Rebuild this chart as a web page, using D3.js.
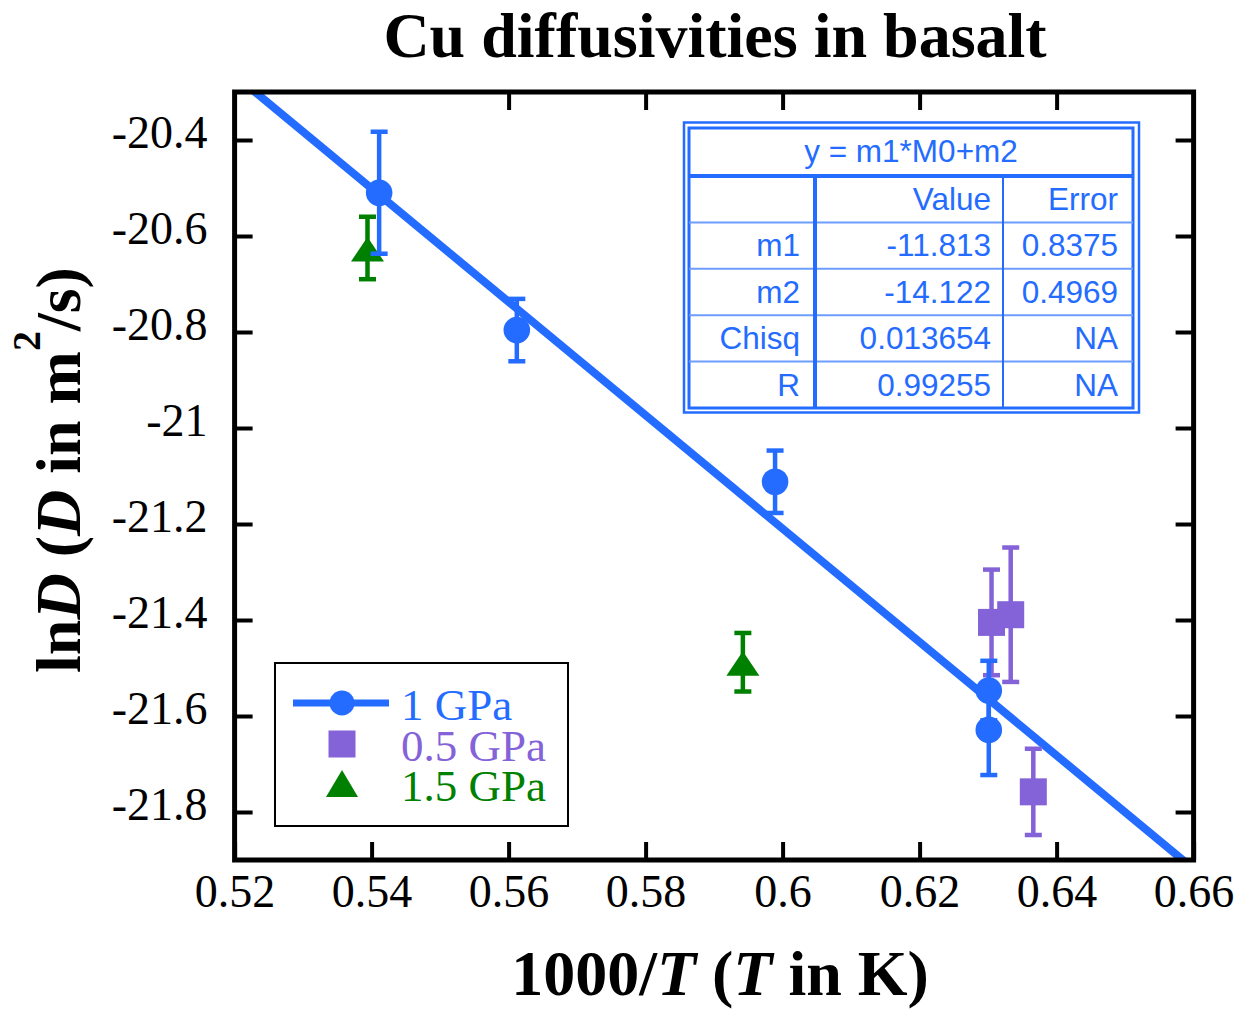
<!DOCTYPE html>
<html>
<head>
<meta charset="utf-8">
<script src="https://cdn.jsdelivr.net/npm/d3@7"></script>
<style>
  html, body { margin: 0; padding: 0; background: #fff; }
  svg { display: block; }
</style>
</head>
<body>
<svg id="chart" width="1244" height="1010"></svg>
<script>
// ---- data ----
const xTickValues = [0.52, 0.54, 0.56, 0.58, 0.60, 0.62, 0.64, 0.66];
const xTopTickValues = [0.56, 0.58, 0.60, 0.62, 0.64];
const yTickValues = [-20.4, -20.6, -20.8, -21.0, -21.2, -21.4, -21.6, -21.8];

// 1 GPa runs
const gpa1X   = [0.5411, 0.5612, 0.5989, 0.6301, 0.6301];
const gpa1Y   = [-20.510, -20.796, -21.112, -21.547, -21.629];
const gpa1Err = [0.127, 0.065, 0.065, 0.062, 0.094];

// 0.5 GPa runs
const gpa05X   = [0.6305, 0.6333, 0.6366];
const gpa05Y   = [-21.405, -21.389, -21.758];
const gpa05Err = [0.110, 0.140, 0.090];

// 1.5 GPa runs
const gpa15X   = [0.5394, 0.5942];
const gpa15Y   = [-20.625, -21.488];
const gpa15Err = [0.065, 0.061];

// linear fit of the 1 GPa runs: y = m1*x + m2
const fitM1 = -11.813;
const fitM2 = -14.122;

const fitTitle = "y = m1*M0+m2";
const fitHeader = ["", "Value", "Error"];
const fitRows = [
  ["m1", "-11.813", "0.8375"],
  ["m2", "-14.122", "0.4969"],
  ["Chisq", "0.013654", "NA"],
  ["R", "0.99255", "NA"]
];

const legendLabels = ["1 GPa", "0.5 GPa", "1.5 GPa"];

// ---- styling ----
const BLUE = "#246cff";
const PURPLE = "#8462d8";
const GREEN = "#008000";
const SERIF = "'Liberation Serif', 'Times New Roman', serif";
const SANS = "'Liberation Sans', Arial, sans-serif";

const svg = d3.select("#chart");

const pL = 234.6, pR = 1193.6, pT = 92, pB = 860;
const x = d3.scaleLinear().domain([0.52, 0.66]).range([pL, pR]);
const y = d3.scaleLinear().domain([-20.3, -21.9]).range([pT, pB]);

const fmtX = d => String(+d.toFixed(2));
const fmtY = d => String(+d.toFixed(1));

// ---- title ----
svg.append("text")
  .attr("x", 715).attr("y", 57)
  .attr("text-anchor", "middle")
  .style("font-family", SERIF).style("font-weight", "bold").style("font-size", "64px")
  .text("Cu diffusivities in basalt");

// ---- axes ----
const TICK = 18;
const axes = svg.append("g");

const gBottom = axes.append("g").attr("transform", `translate(0,${pB})`)
  .call(d3.axisBottom(x).tickValues(xTickValues).tickFormat(fmtX)
    .tickSizeInner(-TICK).tickSizeOuter(0).tickPadding(14));
const gTop = axes.append("g").attr("transform", `translate(0,${pT})`)
  .call(d3.axisTop(x).tickValues(xTopTickValues).tickFormat("")
    .tickSizeInner(-TICK).tickSizeOuter(0));
const gLeft = axes.append("g").attr("transform", `translate(${pL},0)`)
  .call(d3.axisLeft(y).tickValues(yTickValues).tickFormat(fmtY)
    .tickSizeInner(-TICK).tickSizeOuter(0).tickPadding(27));
const gRight = axes.append("g").attr("transform", `translate(${pR},0)`)
  .call(d3.axisRight(y).tickValues(yTickValues).tickFormat("")
    .tickSizeInner(-TICK).tickSizeOuter(0));

axes.selectAll(".domain").remove();
axes.selectAll(".tick line").attr("stroke", "#000").attr("stroke-width", 4);
axes.selectAll(".tick text")
  .attr("fill", "#000")
  .style("font-family", SERIF).style("font-size", "46px");
gLeft.selectAll(".tick text").attr("dy", "0.17em");

// ---- axis labels ----
const xLab = svg.append("text")
  .attr("x", 720).attr("y", 995).attr("text-anchor", "middle")
  .style("font-family", SERIF).style("font-weight", "bold").style("font-size", "64px");
xLab.append("tspan").text("1000/");
xLab.append("tspan").style("font-style", "italic").text("T");
xLab.append("tspan").text(" (");
xLab.append("tspan").style("font-style", "italic").text("T");
xLab.append("tspan").text(" in K)");

const yLab = svg.append("text")
  .attr("transform", "translate(80,470) rotate(-90)")
  .attr("text-anchor", "middle")
  .style("font-family", SERIF).style("font-weight", "bold").style("font-size", "64px");
yLab.append("tspan").text("ln");
yLab.append("tspan").style("font-style", "italic").text("D");
yLab.append("tspan").text(" (");
yLab.append("tspan").style("font-style", "italic").text("D");
yLab.append("tspan").text(" in m");
yLab.append("tspan").attr("dy", -40).style("font-size", "40px").text("2");
yLab.append("tspan").attr("dy", 40).text("/s)");

// ---- plot contents ----
svg.append("defs").append("clipPath").attr("id", "plotClip")
  .append("rect").attr("x", pL).attr("y", pT)
  .attr("width", pR - pL).attr("height", pB - pT);

const plot = svg.append("g").attr("clip-path", "url(#plotClip)");

// fit line
const fitLine = d3.line().x(d => x(d)).y(d => y(fitM1 * d + fitM2));
plot.append("path")
  .datum([0.52, 0.66])
  .attr("d", fitLine)
  .attr("fill", "none").attr("stroke", BLUE).attr("stroke-width", 8);

function zip(xs, ys, es) { return xs.map((v, i) => ({ x: v, y: ys[i], e: es[i] })); }

function errorBars(g, data, color) {
  const cap = 8.5;
  const eb = g.append("g").attr("stroke", color).attr("stroke-width", 4.5);
  data.forEach(d => {
    const cx = x(d.x), y0 = y(d.y - d.e), y1 = y(d.y + d.e);
    eb.append("line").attr("x1", cx).attr("x2", cx).attr("y1", y0).attr("y2", y1);
    eb.append("line").attr("x1", cx - cap).attr("x2", cx + cap).attr("y1", y0).attr("y2", y0);
    eb.append("line").attr("x1", cx - cap).attr("x2", cx + cap).attr("y1", y1).attr("y2", y1);
  });
}

const trianglePath = (cx, cy) => `M${cx},${cy - 11}L${cx + 16.5},${cy + 13.5}L${cx - 16.5},${cy + 13.5}Z`;

// 0.5 GPa
const d05 = zip(gpa05X, gpa05Y, gpa05Err);
errorBars(plot, d05, PURPLE);
plot.append("g").selectAll("rect").data(d05).join("rect")
  .attr("x", d => x(d.x) - 13.5).attr("y", d => y(d.y) - 13.5)
  .attr("width", 27).attr("height", 27).attr("fill", PURPLE);

// 1.5 GPa
const d15 = zip(gpa15X, gpa15Y, gpa15Err);
errorBars(plot, d15, GREEN);
plot.append("g").selectAll("path").data(d15).join("path")
  .attr("d", d => trianglePath(x(d.x), y(d.y))).attr("fill", GREEN);

// 1 GPa
const d1 = zip(gpa1X, gpa1Y, gpa1Err);
errorBars(plot, d1, BLUE);
plot.append("g").selectAll("circle").data(d1).join("circle")
  .attr("cx", d => x(d.x)).attr("cy", d => y(d.y)).attr("r", 13.3).attr("fill", BLUE);

// frame
svg.append("rect")
  .attr("x", pL).attr("y", pT).attr("width", pR - pL).attr("height", pB - pT)
  .attr("fill", "none").attr("stroke", "#000").attr("stroke-width", 5);

// ---- fit results table ----
const tbl = svg.append("g").style("font-family", SANS).style("font-size", "31.5px").attr("fill", BLUE);
const tL = 689, tR = 1133, tT = 128, tB = 408;
const headerY = 176, rowTop = 176, rowH = 46.4;
const col1 = 815, col2 = 1003;
const colRight = [800, 991, 1118];

tbl.append("rect").attr("x", 684).attr("y", 122.5).attr("width", 455).attr("height", 290)
  .attr("fill", "#fff").attr("stroke", BLUE).attr("stroke-width", 2.5);
tbl.append("rect").attr("x", tL).attr("y", tT).attr("width", tR - tL).attr("height", tB - tT)
  .attr("fill", "none").attr("stroke", BLUE).attr("stroke-width", 3);

for (let i = 1; i <= fitRows.length; i++) {
  tbl.append("line").attr("x1", tL).attr("x2", tR)
    .attr("y1", rowTop + i * rowH).attr("y2", rowTop + i * rowH)
    .attr("stroke", "#6e9dff").attr("stroke-width", 2);
}
tbl.append("line").attr("x1", tL).attr("x2", tR).attr("y1", headerY).attr("y2", headerY)
  .attr("stroke", BLUE).attr("stroke-width", 4);
tbl.append("line").attr("x1", col1).attr("x2", col1).attr("y1", headerY).attr("y2", tB)
  .attr("stroke", BLUE).attr("stroke-width", 4);
tbl.append("line").attr("x1", col2).attr("x2", col2).attr("y1", headerY).attr("y2", tB)
  .attr("stroke", BLUE).attr("stroke-width", 2);

tbl.append("text").attr("x", (tL + tR) / 2).attr("y", 162).attr("text-anchor", "middle").text(fitTitle);
[fitHeader].concat(fitRows).forEach((row, r) => {
  row.forEach((cell, c) => {
    tbl.append("text").attr("x", colRight[c]).attr("y", rowTop + r * rowH + 34)
      .attr("text-anchor", "end").text(cell);
  });
});

// ---- legend ----
const leg = svg.append("g");
leg.append("rect").attr("x", 275).attr("y", 663).attr("width", 293).attr("height", 163)
  .attr("fill", "#fff").attr("stroke", "#000").attr("stroke-width", 2);
const legColors = [BLUE, PURPLE, GREEN];
const legY = [703, 744, 784];
const symX = 342;
leg.append("line").attr("x1", 293).attr("x2", 389).attr("y1", legY[0]).attr("y2", legY[0])
  .attr("stroke", BLUE).attr("stroke-width", 7);
leg.append("circle").attr("cx", symX).attr("cy", legY[0]).attr("r", 12.5).attr("fill", BLUE);
leg.append("rect").attr("x", symX - 13.5).attr("y", legY[1] - 13.5).attr("width", 27).attr("height", 27)
  .attr("fill", PURPLE);
leg.append("path").attr("d", `M${symX},${legY[2] - 14}L${symX + 16},${legY[2] + 13}L${symX - 16},${legY[2] + 13}Z`)
  .attr("fill", GREEN);
legendLabels.forEach((t, i) => {
  leg.append("text").attr("x", 401).attr("y", legY[i] + 17)
    .attr("fill", legColors[i])
    .style("font-family", SERIF).style("font-size", "45px")
    .text(t);
});
</script>
</body>
</html>
